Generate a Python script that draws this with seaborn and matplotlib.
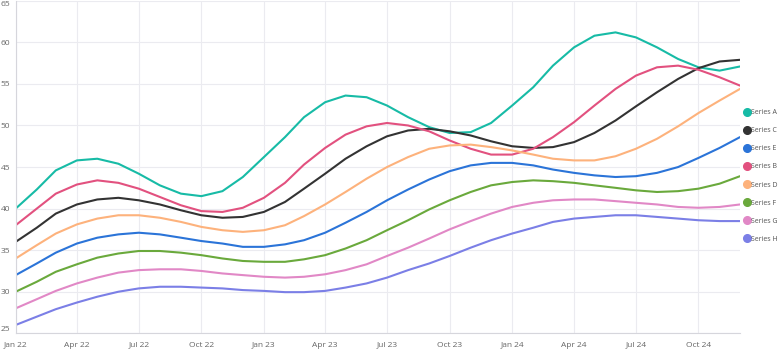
import matplotlib
matplotlib.use("Agg")
import matplotlib.pyplot as plt
import matplotlib.dates as mdates
from matplotlib.lines import Line2D
import numpy as np
import pandas as pd
import seaborn as sns

# Monthly observations, Jan 2022 - Dec 2024
months = pd.date_range("2022-01-01", periods=36, freq="MS")

series_a = [40.0, 42.3, 44.6, 45.8, 46.0, 45.4, 44.2, 42.8, 41.8, 41.5, 42.1, 43.8,
            46.2, 48.6, 51.0, 52.8, 53.6, 53.4, 52.4, 51.0, 49.8, 49.1, 49.2, 50.3,
            52.4, 54.6, 57.2, 59.4, 60.8, 61.2, 60.6, 59.4, 58.0, 57.0, 56.6, 57.1]
series_b = [38.0, 40.0, 41.8, 42.9, 43.4, 43.1, 42.4, 41.4, 40.4, 39.7, 39.6, 40.1,
            41.3, 43.1, 45.3, 47.3, 48.9, 49.9, 50.3, 50.0, 49.3, 48.2, 47.2, 46.5,
            46.5, 47.2, 48.6, 50.4, 52.4, 54.4, 56.0, 57.0, 57.2, 56.7, 55.8, 54.8]
series_c = [36.0, 37.7, 39.4, 40.5, 41.1, 41.3, 41.0, 40.5, 39.8, 39.2, 38.9, 39.0,
            39.6, 40.8, 42.4, 44.2, 46.0, 47.5, 48.7, 49.4, 49.6, 49.3, 48.8, 48.1,
            47.5, 47.3, 47.4, 48.0, 49.1, 50.6, 52.3, 54.0, 55.6, 56.9, 57.7, 57.9]
series_d = [34.0, 35.6, 37.0, 38.1, 38.8, 39.2, 39.2, 38.9, 38.4, 37.8, 37.4, 37.2,
            37.4, 38.0, 39.1, 40.5, 42.0, 43.6, 45.0, 46.2, 47.2, 47.6, 47.7, 47.4,
            47.0, 46.5, 46.0, 45.8, 45.8, 46.3, 47.2, 48.4, 49.9, 51.5, 53.0, 54.4]
series_e = [32.0, 33.4, 34.7, 35.8, 36.5, 36.9, 37.1, 36.9, 36.5, 36.1, 35.8, 35.4,
            35.4, 35.7, 36.2, 37.1, 38.3, 39.6, 41.0, 42.3, 43.5, 44.5, 45.2, 45.5,
            45.5, 45.2, 44.7, 44.3, 44.0, 43.8, 43.9, 44.3, 45.0, 46.1, 47.3, 48.6]
series_f = [30.0, 31.2, 32.4, 33.3, 34.1, 34.6, 34.9, 34.9, 34.7, 34.4, 34.0, 33.7,
            33.6, 33.6, 33.9, 34.4, 35.2, 36.2, 37.4, 38.6, 39.9, 41.0, 42.0, 42.8,
            43.2, 43.4, 43.3, 43.1, 42.8, 42.5, 42.2, 42.0, 42.1, 42.4, 43.0, 43.9]
series_g = [28.0, 29.1, 30.1, 31.0, 31.7, 32.3, 32.6, 32.7, 32.7, 32.5, 32.2, 32.0,
            31.8, 31.7, 31.8, 32.1, 32.6, 33.3, 34.3, 35.3, 36.4, 37.5, 38.5, 39.4,
            40.2, 40.7, 41.0, 41.1, 41.1, 40.9, 40.7, 40.5, 40.2, 40.1, 40.2, 40.5]
series_h = [26.0, 27.0, 27.9, 28.7, 29.4, 30.0, 30.4, 30.6, 30.6, 30.5, 30.4, 30.2,
            30.1, 29.95, 29.95, 30.1, 30.5, 31.0, 31.7, 32.6, 33.4, 34.3, 35.3, 36.2,
            37.0, 37.7, 38.4, 38.8, 39.0, 39.2, 39.2, 39.0, 38.8, 38.6, 38.5, 38.5]

series_names = ["Series A", "Series C", "Series E", "Series B",
                "Series D", "Series F", "Series G", "Series H"]
series_values = {
    "Series A": series_a, "Series B": series_b, "Series C": series_c,
    "Series D": series_d, "Series E": series_e, "Series F": series_f,
    "Series G": series_g, "Series H": series_h,
}
colors = {
    "Series A": "#17BBA6", "Series C": "#333333", "Series E": "#2B74D8",
    "Series B": "#E2517F", "Series D": "#FDB27C", "Series F": "#6AA93C",
    "Series G": "#E188C6", "Series H": "#7B7FE6",
}
y_ticks = [25, 30, 35, 40, 45, 50, 55, 60, 65]

df = pd.DataFrame(
    [(m, name, v) for name in series_names
     for m, v in zip(months, series_values[name])],
    columns=["month", "series", "value"],
)

sns.set_theme(style="white")
plt.rcParams["font.family"] = ["Open Sans", "DejaVu Sans"]

fig = plt.figure(figsize=(7.8, 3.49), dpi=100)
ax = fig.add_axes([0.0201, 0.045, 0.9286, 0.9527])

sns.lineplot(data=df, x="month", y="value", hue="series", hue_order=series_names,
             palette=colors, linewidth=1.5, legend=False, ax=ax)

ax.set_xlim(months[0], months[-1])
ax.set_ylim(25, 65)
ax.set_yticks(y_ticks)
ax.set_yticklabels([str(t) for t in y_ticks])
ax.xaxis.set_major_locator(mdates.MonthLocator(bymonth=[1, 4, 7, 10]))
ax.xaxis.set_major_formatter(mdates.DateFormatter("%b %y"))
ax.set_xlabel("")
ax.set_ylabel("")

grid_col = "#EBEBF0"
ax.grid(True, color=grid_col, linewidth=0.8)
ax.set_axisbelow(True)
for side in ["top", "right"]:
    ax.spines[side].set_visible(False)
for side in ["left", "bottom"]:
    ax.spines[side].set_color("#D6D6DC")
    ax.spines[side].set_linewidth(0.8)

ax.tick_params(axis="x", length=3, width=0.8, color=grid_col, pad=3,
               labelsize=6, labelcolor="#666666")
ax.tick_params(axis="y", length=0, pad=4, labelsize=6, labelcolor="#666666")

# keep the end labels inside the plotting area
ylabels = ax.get_yticklabels()
ylabels[-1].set_va("top")
ylabels[0].set_va("bottom")

handles = [Line2D([0], [0], marker="o", linestyle="", markersize=5.5,
                  markerfacecolor=colors[n], markeredgecolor=colors[n])
           for n in series_names]
leg = ax.legend(handles, series_names, loc="center left",
                bbox_to_anchor=(1.0, 0.473), frameon=False, fontsize=5,
                handletextpad=0.15, labelspacing=1.6, handlelength=0.9,
                borderaxespad=0.15)
for t in leg.get_texts():
    t.set_color("#555555")

fig.savefig("out.png", dpi=100)
